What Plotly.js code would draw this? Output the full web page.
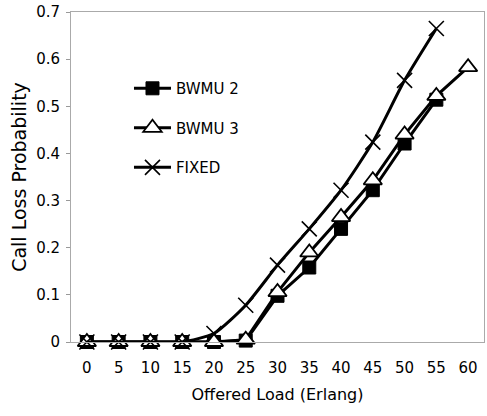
<!DOCTYPE html>
<html>
<head>
<meta charset="utf-8">
<script src="https://cdn.plot.ly/plotly-3.0.1.min.js"></script>
<style>html,body{margin:0;padding:0;background:#fff;}</style>
</head>
<body>
<div id="chart" style="width:487px;height:416px;"></div>
<script>
const loads = ['0','5','10','15','20','25','30','35','40','45','50','55','60'];
const bwmu2 = [0, 0, 0, 0, 0, 0.003, 0.098, 0.158, 0.24, 0.322, 0.421, 0.514, null];
const bwmu3 = [0, 0, 0, 0, 0, 0.005, 0.106, 0.19, 0.265, 0.343, 0.44, 0.522, 0.583];
const fixed = [0, 0, 0, 0, 0.018, 0.078, 0.163, 0.24, 0.322, 0.424, 0.555, 0.665, null];
const names = ['BWMU 2', 'BWMU 3', 'FIXED'];

const font = 'DejaVu Sans, Arial, sans-serif';
const traces = [
  {x: loads, y: bwmu2, name: names[0], legendgroup: 'a', type: 'scatter', mode: 'lines+markers',
   line: {color: '#000', width: 3},
   marker: {symbol: 'square', size: 13, color: '#000', line: {color: '#000', width: 1}}},
  {x: loads, y: bwmu3, name: names[1], legendgroup: 'b', type: 'scatter', mode: 'lines+markers',
   line: {color: '#000', width: 3},
   marker: {symbol: 'triangle-up', size: 16, color: '#fff', line: {color: '#000', width: 1.8}}},
  {x: loads, y: fixed, name: names[2], legendgroup: 'c', type: 'scatter', mode: 'lines+markers',
   line: {color: '#000', width: 3, shape: 'spline', smoothing: 0.6},
   marker: {symbol: 'x-thin-open', size: 15, color: '#000', line: {color: '#000', width: 1.6}}}
];

const layout = {
  width: 487, height: 416,
  margin: {l: 71, r: 3, t: 12, b: 74},
  paper_bgcolor: '#fff', plot_bgcolor: '#fff',
  font: {family: font, size: 15, color: '#000'},
  showlegend: true,
  legend: {x: 0.1404, y: 0.818, xanchor: 'left', yanchor: 'top', traceorder: 'grouped',
           tracegroupgap: 17, itemwidth: 37, bgcolor: 'rgba(0,0,0,0)',
           font: {family: font, size: 15, color: '#000'}},
  xaxis: {type: 'category', range: [-0.5, 12.5], showgrid: false, zeroline: false,
          showline: true, linecolor: '#aaa', linewidth: 1, mirror: true,
          ticks: '', ticklabelstandoff: 12, tickfont: {family: font, size: 15},
          title: {text: 'Offered Load (Erlang)', font: {family: font, size: 16}, standoff: 12}},
  yaxis: {range: [0, 0.7], dtick: 0.1, tickformat: '.1~f', showgrid: false, zeroline: false,
          showline: true, linecolor: '#aaa', linewidth: 1, mirror: true,
          ticks: 'outside', ticklen: 4, tickcolor: '#999', ticklabelstandoff: 3,
          tickfont: {family: font, size: 15},
          title: {text: 'Call Loss Probability', font: {family: font, size: 19}, standoff: 4}}
};
traces.forEach(t => t.cliponaxis = false);
Plotly.newPlot('chart', traces, layout, {displayModeBar: false, staticPlot: true});
</script>
</body>
</html>
